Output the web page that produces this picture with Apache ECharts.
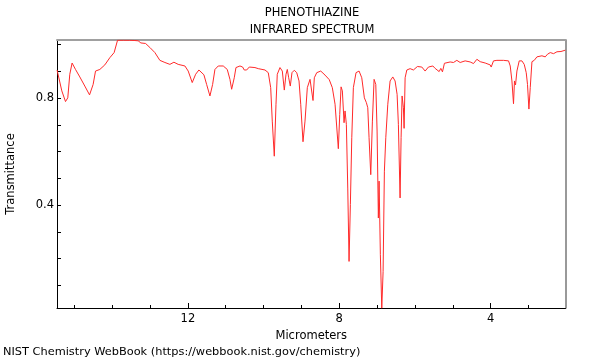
<!DOCTYPE html>
<html>
<head>
<meta charset="utf-8">
<script src="https://cdn.jsdelivr.net/npm/echarts@6/dist/echarts.min.js"></script>
<style>
html,body{margin:0;padding:0;background:#fff;}
#chart{width:600px;height:360px;}
</style>
</head>
<body>
<div id="chart"></div>
<script>
// Wavelength (micrometers) and transmittance
var wavelength = [
15.458,15.333,15.235,15.175,15.122,15.061,14.971,14.857,14.725,14.600,14.505,14.442,14.328,14.196,14.063,13.950,
13.860,13.700,13.550,13.400,13.315,13.243,13.119,13.005,12.873,12.741,12.608,12.476,12.370,12.257,12.079,
11.992,11.886,11.796,11.709,11.683,11.577,11.505,11.418,11.347,11.286,11.198,11.066,10.960,10.889,10.844,
10.775,10.730,10.624,10.553,10.511,10.447,10.378,10.228,10.140,10.095,9.963,9.876,9.812,9.770,9.717,9.672,
9.638,9.566,9.505,9.452,9.407,9.373,9.336,9.294,9.249,9.188,9.124,9.063,9.018,8.958,8.905,8.844,8.772,
8.728,8.693,8.659,8.595,8.489,8.376,8.265,8.183,8.111,8.024,7.987,7.952,7.918,7.873,7.847,7.812,7.775,
7.741,7.706,7.669,7.627,7.556,7.476,7.405,7.336,7.283,7.246,7.212,7.167,7.124,7.079,7.034,7.000,6.966,
6.947,6.913,6.876,6.841,6.807,6.770,6.717,6.656,6.585,6.524,6.471,6.437,6.392,6.365,6.339,6.304,6.286,
6.259,6.214,6.127,6.040,5.934,5.817,5.730,5.643,5.526,5.466,5.421,5.360,5.315,5.272,5.220,5.069,4.981,
4.892,4.804,4.672,4.540,4.452,4.362,4.275,4.143,4.011,3.984,3.923,3.833,3.659,3.526,3.481,3.436,3.394,
3.368,3.341,3.304,3.243,3.172,3.111,3.058,3.024,2.987,2.952,2.907,2.846,2.775,2.643,2.556,2.495,2.423,
2.336,2.246,2.140,2.026
];
var transmittance = [
0.905,0.827,0.787,0.801,0.889,0.931,0.907,0.879,0.845,0.812,0.851,0.901,0.907,0.924,0.951,0.970,
1.016,1.016,1.016,1.015,1.014,1.006,1.004,0.989,0.970,0.941,0.933,0.926,0.934,0.926,0.920,
0.901,0.858,0.889,0.905,0.898,0.887,0.851,0.808,0.851,0.907,0.920,0.920,0.907,0.870,0.833,
0.876,0.914,0.920,0.916,0.905,0.905,0.916,0.914,0.910,0.907,0.905,0.895,0.839,0.714,0.583,0.777,
0.889,0.914,0.901,0.830,0.889,0.907,0.876,0.845,0.895,0.904,0.895,0.864,0.777,0.637,0.714,0.839,0.870,
0.866,0.791,0.876,0.895,0.901,0.886,0.869,0.839,0.777,0.611,0.739,0.842,0.827,0.708,0.752,0.702,0.464,
0.190,0.402,0.652,0.839,0.895,0.901,0.876,0.801,0.783,0.764,0.652,0.514,0.714,0.870,0.851,0.677,0.352,
0.490,0.215,0.015,0.152,0.527,0.652,0.777,0.864,0.879,0.864,0.814,0.702,0.427,0.652,0.808,0.764,0.687,
0.876,0.905,0.910,0.905,0.918,0.916,0.901,0.916,0.920,0.911,0.918,0.899,0.911,0.898,0.930,0.935,0.933,
0.941,0.933,0.939,0.935,0.929,0.945,0.936,0.931,0.924,0.916,0.939,0.941,0.941,0.939,0.920,0.864,0.779,
0.864,0.849,0.901,0.939,0.939,0.926,0.895,0.851,0.759,0.839,0.936,0.941,0.954,0.958,0.954,0.964,0.970,
0.966,0.973,0.974,0.979
];
var xMajorTicks = [4, 8, 12];
var xMinorTicks = [3,4,5,6,7,8,9,10,11,12,13,14,15];
var yLabelTicks = [0.4, 0.8];
var yMinorTicks = [0.1,0.2,0.3,0.4,0.5,0.6,0.7,0.8,0.9,1.0];

var points = wavelength.map(function (w, i) { return [w, transmittance[i]]; });
var FONT = 'DejaVu Sans';
var FS = 11.5;
var X_MIN = 2.02, X_MAX = 15.46, Y_MIN = 0.016, Y_MAX = 1.017;

var chart = echarts.init(document.getElementById('chart'), null, {renderer: 'canvas'});
chart.setOption({
  animation: false,
  backgroundColor: '#fff',
  graphic: [{
    type: 'text', x: 312, y: 13,
    style: {text: 'PHENOTHIAZINE', font: FS + 'px "DejaVu Sans"', fill: '#000', align: 'center', verticalAlign: 'middle'}
  }, {
    type: 'text', x: 312, y: 30,
    style: {text: 'INFRARED SPECTRUM', font: FS + 'px "DejaVu Sans"', fill: '#000', align: 'center', verticalAlign: 'middle'}
  }, {
    type: 'text', x: 3, y: 352,
    style: {text: 'NIST Chemistry WebBook (https://webbook.nist.gov/chemistry)', font: '11.35px "DejaVu Sans"', fill: '#000', align: 'left', verticalAlign: 'middle'}
  }],
  grid: {left: 57, right: 34.5, top: 40, bottom: 52, containLabel: false, outerBoundsMode: 'none'},
  xAxis: [{
    type: 'value', inverse: true, min: X_MIN, max: X_MAX, position: 'bottom',
    name: 'Micrometers', nameLocation: 'middle', nameGap: 16,
    nameTextStyle: {fontFamily: FONT, fontSize: FS, color: '#000'},
    axisLine: {show: true, onZero: false, lineStyle: {color: '#000', width: 1}},
    axisTick: {show: true, inside: true, length: 5, customValues: xMajorTicks, lineStyle: {color: '#000'}},
    axisLabel: {show: true, margin: 5, customValues: xMajorTicks, fontFamily: FONT, fontSize: FS, color: '#000'},
    splitLine: {show: false}
  }, {
    type: 'value', inverse: true, min: X_MIN, max: X_MAX, position: 'bottom', offset: 0,
    axisLine: {show: false},
    axisTick: {show: true, inside: true, length: 3, customValues: xMinorTicks, lineStyle: {color: '#000'}},
    axisLabel: {show: false}, splitLine: {show: false}
  }, {
    type: 'value', inverse: true, min: X_MIN, max: X_MAX, position: 'top',
    axisLine: {show: true, onZero: false, lineStyle: {color: '#a0a0a0', width: 2}},
    axisTick: {show: false}, axisLabel: {show: false}, splitLine: {show: false}
  }],
  yAxis: [{
    type: 'value', min: Y_MIN, max: Y_MAX, position: 'left',
    name: 'Transmittance', nameLocation: 'middle', nameGap: 40,
    nameTextStyle: {fontFamily: FONT, fontSize: FS, color: '#000'},
    axisLine: {show: true, onZero: false, lineStyle: {color: '#000', width: 1}},
    axisTick: {show: true, inside: true, length: 4, customValues: yMinorTicks, lineStyle: {color: '#000'}},
    axisLabel: {show: true, margin: 3, customValues: yLabelTicks, fontFamily: FONT, fontSize: FS, color: '#000',
      formatter: function (v) { return v.toFixed(1); }},
    splitLine: {show: false}
  }, {
    type: 'value', min: Y_MIN, max: Y_MAX, position: 'right',
    axisLine: {show: true, onZero: false, lineStyle: {color: '#777', width: 1.5}},
    axisTick: {show: false}, axisLabel: {show: false}, splitLine: {show: false}
  }],
  series: [{
    type: 'line', data: points, xAxisIndex: 0, yAxisIndex: 0,
    showSymbol: false, symbol: 'none', smooth: false, clip: true,
    lineStyle: {color: '#ff2a2a', width: 1}
  }]
});
</script>
</body>
</html>
